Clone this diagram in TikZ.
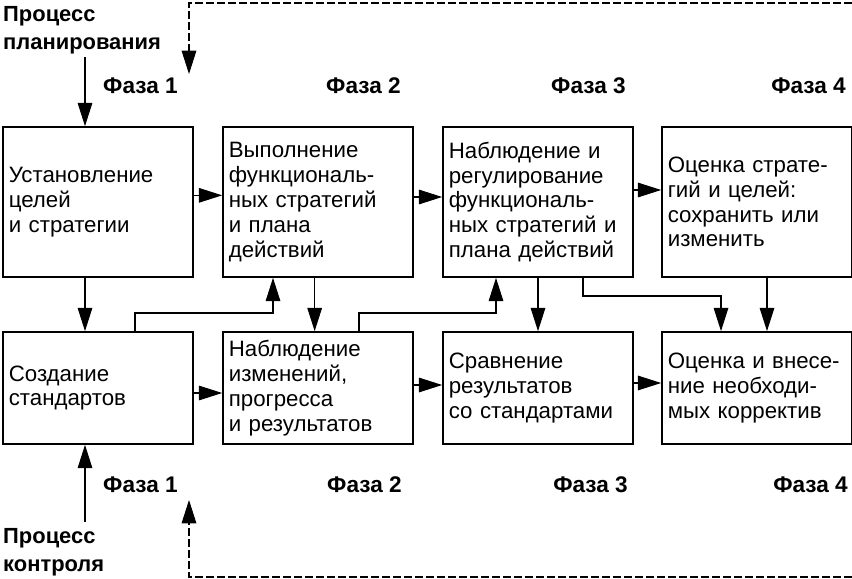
\documentclass[tikz,border=0pt]{standalone}
\usepackage{fontspec}
\setmainfont{Liberation Sans}
\usetikzlibrary{arrows.meta}

\begin{document}
\begin{tikzpicture}[x=0.3mm,y=-0.3mm,
		box/.style={draw,line width=1.5pt,minimum width=57mm,text width=53.5mm,inner xsep=1.75mm,align=left,font=\fontsize{19}{21.2}\selectfont},
		topbox/.style={box,minimum height=45mm},
		lowbox/.style={box,minimum height=33.6mm},
		phase/.style={font=\fontsize{19.3}{22}\selectfont\bfseries,inner sep=0pt},
		proc/.style={font=\fontsize{18.7}{24}\selectfont\bfseries,inner sep=0pt,align=left},
		arr/.style={line width=0.9pt,-{Triangle[length=7mm,width=4.4mm]}},
		dashline/.style={line width=0.9pt,dash pattern=on 2.4mm off 0.9mm}]
			\useasboundingbox (0,0) rectangle (852,579);
			\node[topbox] (b1) at (98,202) {Установление\\целей\\и стратегии};
			\node[topbox] (b2) at (318,202) {Выполнение\\функциональ-\\ных стратегий\\и плана\\действий\par\vspace*{4.5mm}};
			\node[topbox] (b3) at (538,202) {Наблюдение и\\регулирование\\функциональ-\\ных стратегий и\\плана действий\par\vspace*{4.5mm}};
			\node[topbox] (b4) at (757,202) {Оценка страте-\\гий и целей:\\сохранить или\\изменить};
			\node[lowbox] (b5) at (98,388) {Создание\\стандартов};
			\node[lowbox] (b6) at (318,388) {Наблюдение\\изменений,\\прогресса\\и результатов};
			\node[lowbox] (b7) at (538,388) {Сравнение\\результатов\\со стандартами};
			\node[lowbox] (b8) at (757,388) {\mbox{Оценка и внесе-}\\ние необходи-\\мых корректив};
			\node[proc,anchor=north west] (plan) at (3,6) {Процесс\\планирования};
			\node[proc,anchor=north west] (ctrl) at (3,528) {Процесс\\контроля};
			\node[phase,anchor=east] (f1) at (178,86) {Фаза 1};
			\node[phase,anchor=east] (f2) at (401,86) {Фаза 2};
			\node[phase,anchor=east] (f3) at (626,86) {Фаза 3};
			\node[phase,anchor=east] (f4) at (846,86) {Фаза 4};
			\node[phase,anchor=east] (g1) at (178,485) {Фаза 1};
			\node[phase,anchor=east] (g2) at (402,485) {Фаза 2};
			\node[phase,anchor=east] (g3) at (628,485) {Фаза 3};
			\node[phase,anchor=east] (g4) at (848,485) {Фаза 4};
			\coordinate (p1) at (85,57);
			\coordinate (p2) at (85,522);
			\coordinate (d1) at (852,3);
			\coordinate (d2) at (189,74);
			\coordinate (d3) at (852,577);
			\coordinate (d4) at (189,500);
			\coordinate (k1) at (273,313);
			\coordinate (k2) at (496,313);
			\coordinate (k3) at (721,296);
			\draw[arr] (p1) -- (p1 |- b1.north);
			\draw[arr] (p2) -- (p2 |- b5.south);
			\draw[arr,dashline] (d1) -| (d2);
			\draw[arr,dashline] (d3) -| (d4);
			\draw[arr] ([yshift=2mm]b1.east) -- ([yshift=2mm]b2.west);
			\draw[arr] ([yshift=1.5mm]b2.east) -- ([yshift=1.5mm]b3.west);
			\draw[arr] ([yshift=3.6mm]b3.east) -- ([yshift=3.6mm]b4.west);
			\draw[arr] ([yshift=-1.5mm]b5.east) -- ([yshift=-1.5mm]b6.west);
			\draw[arr] ([yshift=0.9mm]b6.east) -- ([yshift=0.9mm]b7.west);
			\draw[arr] ([yshift=1.5mm]b7.east) -- ([yshift=1.5mm]b8.west);
			\draw[arr] (p1 |- b1.south) -- (p1 |- b5.north);
			\draw[arr] ([xshift=11.1mm]b5.north) |- (k1) -- (k1 |- b2.south);
			\draw[arr] ([xshift=-1mm]b2.south) -- ([xshift=-1mm]b6.north);
			\draw[arr] ([xshift=12.3mm]b6.north) |- (k2) -- (k2 |- b3.south);
			\draw[arr] (b3.south) -- (b7.north);
			\draw[arr] ([xshift=13.5mm]b3.south) |- (k3) -- (k3 |- b8.north);
			\draw[arr] ([xshift=3mm]b4.south) -- ([xshift=3mm]b8.north);
\end{tikzpicture}
\end{document}
